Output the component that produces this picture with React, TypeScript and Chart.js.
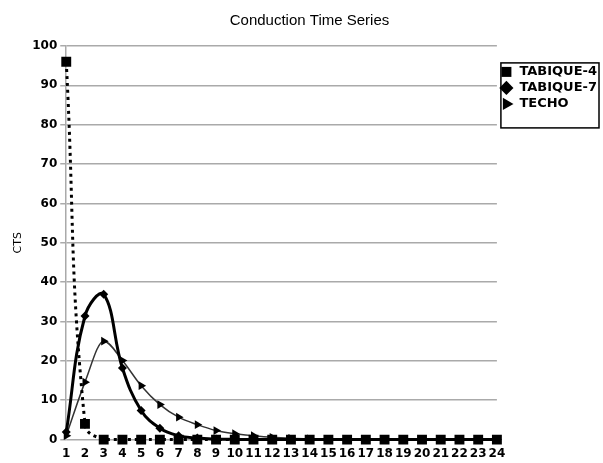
import React, { useEffect, useRef } from "react";
import { Chart, registerables } from "chart.js";

Chart.register(...registerables);

const categories: string[] = [
  "1", "2", "3", "4", "5", "6", "7", "8", "9", "10", "11", "12",
  "13", "14", "15", "16", "17", "18", "19", "20", "21", "22", "23", "24",
];

const tabique4: number[] = [96, 4, 0, 0, 0, 0, 0, 0, 0, 0, 0, 0, 0, 0, 0, 0, 0, 0, 0, 0, 0, 0, 0, 0];
const tabique7: number[] = [1.9, 31.4, 36.9, 18.2, 7.4, 2.9, 1.0, 0.4, 0.15, 0.05, 0, 0, 0, 0, 0, 0, 0, 0, 0, 0, 0, 0, 0, 0];
const techo: number[] = [1.0, 14.6, 25.0, 20.1, 13.7, 8.9, 5.7, 3.8, 2.3, 1.5, 1.0, 0.6, 0.35, 0.2, 0.1, 0.05, 0, 0, 0, 0, 0, 0, 0, 0];

const seriesNames: string[] = ["TABIQUE-4", "TABIQUE-7", "TECHO"];
const chartTitle = "Conduction Time Series";
const yTitle = "CTS";

const legendBorder = {
  id: "legendBorder",
  afterDraw(chart: any) {
    const lg = chart.legend;
    if (!lg || !lg.legendHitBoxes || !lg.legendHitBoxes.length) return;
    const hb = lg.legendHitBoxes;
    let l = Infinity, t = Infinity, r = -Infinity;
    hb.forEach((h: any) => {
      l = Math.min(l, h.left);
      t = Math.min(t, h.top);
      r = Math.max(r, h.left + h.width);
    });
    const ctx = chart.ctx;
    ctx.save();
    ctx.strokeStyle = "#000";
    ctx.lineWidth = 1.5;
    ctx.strokeRect(l + 1, t - 2.5, Math.min(r - l + 1, chart.width - l - 3), 65);
    ctx.restore();
  },
};

export default function App() {
  const ref = useRef<HTMLCanvasElement | null>(null);
  useEffect(() => {
    if (!ref.current) return;
    const chart = new Chart(ref.current, {
      type: "line",
      data: {
        labels: categories,
        datasets: [
          {
            label: seriesNames[0],
            data: tabique4,
            borderColor: "#000",
            backgroundColor: "#000",
            borderWidth: 3,
            borderDash: [3, 4],
            tension: 0.45,
            pointStyle: "rect",
            pointRadius: 7,
            pointBorderWidth: 0,
            clip: { left: 10, right: 10, top: 10, bottom: 6 },
            order: 0,
          },
          {
            label: seriesNames[1],
            data: tabique7,
            borderColor: "#000",
            backgroundColor: "#000",
            borderWidth: 3,
            tension: 0.4,
            pointStyle: "rectRot",
            pointRadius: 4.5,
            pointBorderWidth: 0,
            clip: false,
            order: 1,
          },
          {
            label: seriesNames[2],
            data: techo,
            borderColor: "#333",
            backgroundColor: "#000",
            borderWidth: 1.5,
            cubicInterpolationMode: "monotone",
            tension: 0.4,
            pointStyle: "triangle",
            rotation: 90,
            pointRadius: 5,
            pointBorderWidth: 0,
            clip: false,
            order: 2,
          } as any,
        ],
      },
      options: {
        animation: false,
        responsive: true,
        maintainAspectRatio: false,
        layout: { padding: { left: 12, right: -4, bottom: -5, top: 0 } },
        plugins: {
          title: {
            display: true,
            text: chartTitle,
            color: "#000",
            font: { family: "Liberation Sans", size: 15, weight: "normal" },
            padding: { top: 12, bottom: 16 },
          },
          legend: {
            position: "right",
            align: "start",
            title: { display: true, text: "", padding: { top: 48, bottom: 0 }, font: { size: 12 } },
            labels: {
              usePointStyle: true,
              boxHeight: 10,
              color: "#000",
              padding: 3,
              font: { family: "DejaVu Sans", size: 13, weight: "bold" },
            },
          },
          tooltip: { enabled: false },
        },
        scales: {
          x: {
            offset: false,
            grid: { display: false, drawTicks: false },
            border: { display: false },
            ticks: {
              autoSkip: false,
              maxRotation: 0,
              color: "#000",
              padding: 7,
              font: { family: "DejaVu Sans", size: 12, weight: "bold" },
            },
          },
          y: {
            min: 0,
            max: 100,
            ticks: {
              stepSize: 10,
              color: "#000",
              padding: 3,
              font: { family: "DejaVu Sans", size: 12, weight: "bold" },
            },
            grid: { color: "#aaa", lineWidth: 1.5, tickLength: 6 },
            border: { display: true, color: "#aaa", width: 1.5 },
            title: {
              display: true,
              text: yTitle,
              color: "#000",
              font: { family: "DejaVu Sans", size: 11 },
              padding: { top: 0, bottom: 4 },
            },
          },
        },
      },
      plugins: [legendBorder],
    });
    return () => chart.destroy();
  }, []);
  return (
    <div style={{ position: "absolute", left: 0, top: 0, width: 603, height: 463, background: "#fff" }}>
      <canvas ref={ref} />
    </div>
  );
}
